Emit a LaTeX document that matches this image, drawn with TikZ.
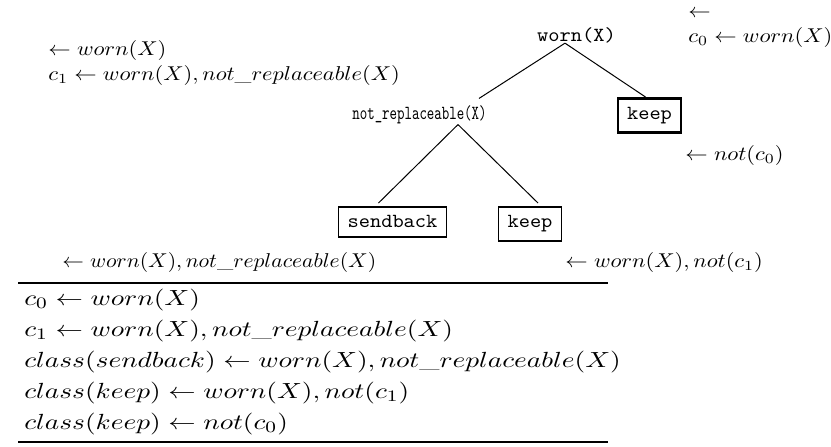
\documentclass[tikz,border=0pt]{standalone}
\usepackage{graphicx}
\newcommand{\am}[1]{\scalebox{1.12}[1]{$#1$}}
\newcommand{\tm}[1]{\scalebox{1.25}[1]{$#1$}}
\newcommand{\tw}[1]{\scalebox{1.07}[1]{#1}}
\tikzset{
  lab/.style={anchor=west, inner sep=0pt, font=\fontsize{10}{12}\selectfont},
  rowtxt/.style={anchor=west, inner sep=0pt, font=\fontsize{11}{13}\selectfont},
  ttnode/.style={inner sep=0pt, font=\fontsize{10}{12}\selectfont\ttfamily},
  leaf/.style={draw, line width=0.8pt, anchor=north, inner xsep=4.5pt, inner ysep=4.45pt,
    font=\fontsize{10}{12}\selectfont\ttfamily},
  edgeline/.style={line width=0.5pt},
  tablerule/.style={line width=1.3pt}
}
\begin{document}
\begin{tikzpicture}[x=0.5pt,y=-0.5pt]
\useasboundingbox (0,0) rectangle (831,446);
% annotations top
\node[lab] (a1) at (48,50) {\am{\leftarrow worn(X)}};
\node[lab] (a2) at (48,75) {\am{c_1 \leftarrow worn(X), not\_replaceable(X)}};
\node[lab] (a3) at (688,14) {\am{\leftarrow}};
\node[lab] (a4) at (688,37) {\am{c_0 \leftarrow worn(X)}};
% tree
\node[ttnode] (worn) at (576.5,35) {\tw{worn(X)}};
\node[ttnode] (nr) at (419.5,115) {\scalebox{0.71}[1]{not\_replaceable(X)}};
\node[leaf, line width=1.3pt] (k1) at (649.5,97) {\tw{keep}};
\node[leaf] (sb) at (392.5,206) {\tw{sendback}};
\node[leaf] (k2) at (530,206) {\tw{keep}};
\draw[edgeline] ([xshift=-5.75pt]worn.south) -- ([shift={(-4pt,3.5pt)}]nr.north east);
\draw[edgeline] ([xshift=-5.75pt]worn.south) -- ([xshift=-2pt]k1.north);
\draw[edgeline] ([xshift=19.25pt]nr.south) -- ([shift={(-7pt,1.5pt)}]sb.north);
\draw[edgeline] ([xshift=19.25pt]nr.south) -- ([shift={(4pt,1.5pt)}]k2.north);
% labels
\node[lab] (l1) at (685,155) {\am{\leftarrow not(c_0)}};
\node[lab] (l2) at (62,262) {\scalebox{1.08}[1]{$\leftarrow worn(X), not\_replaceable(X)$}};
\node[lab] (l3) at (565,262) {\am{\leftarrow worn(X), not(c_1)}};
% table
\coordinate (t1) at (18,283);
\coordinate (t2) at (608,283);
\coordinate (b1) at (18,442);
\coordinate (b2) at (608,442);
\draw[tablerule] (t1) -- (t2);
\draw[tablerule] (b1) -- (b2);
\node[rowtxt] (r1) at (24,300) {\tm{c_0 \leftarrow worn(X)}};
\node[rowtxt] (r2) at (24,331) {\tm{c_1 \leftarrow worn(X), not\_replaceable(X)}};
\node[rowtxt] (r3) at (24,362) {\tm{class(sendback) \leftarrow worn(X), not\_replaceable(X)}};
\node[rowtxt] (r4) at (24,393) {\tm{class(keep) \leftarrow worn(X), not(c_1)}};
\node[rowtxt] (r5) at (24,424) {\tm{class(keep) \leftarrow not(c_0)}};
\end{tikzpicture}
\end{document}
